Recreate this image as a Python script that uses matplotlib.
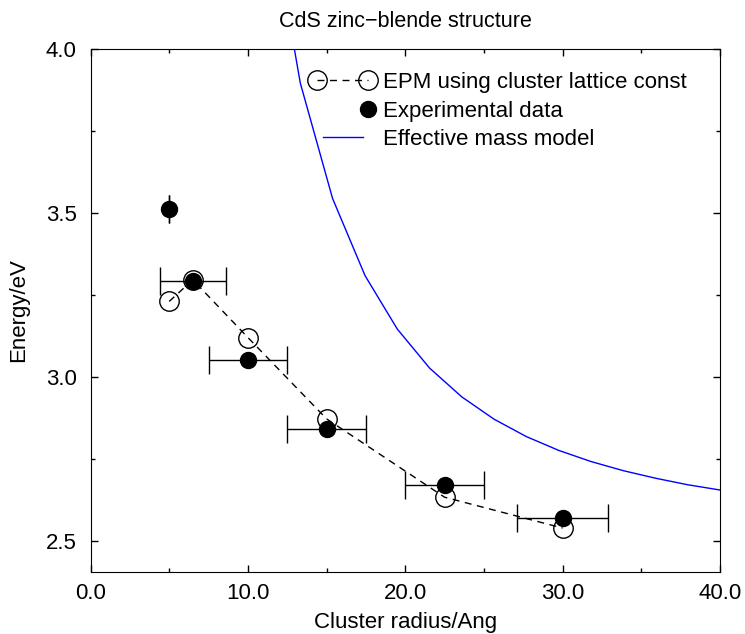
import matplotlib
matplotlib.use('Agg')
import matplotlib.pyplot as plt
from matplotlib.legend_handler import HandlerLine2D, HandlerLine2DCompound
from matplotlib.lines import Line2D
from matplotlib.ticker import MultipleLocator, FormatStrFormatter

plt.rcParams['font.family'] = ['Liberation Sans', 'DejaVu Sans']

# EPM calculation (open circles, dashed)
epm_r = [5.0, 6.5, 10.0, 15.0, 22.5, 30.0]
epm_e = [3.230, 3.296, 3.120, 2.872, 2.633, 2.539]

# experimental points with radius uncertainty
exp_r = [5.0, 6.5, 10.0, 15.0, 22.5, 30.0]
exp_e = [3.511, 3.293, 3.051, 2.841, 2.671, 2.569]
exp_rerr = [0.0, 2.1, 2.5, 2.5, 2.5, 2.9]

# effective mass model curve
ema_r = [11.28, 13.33, 15.38, 17.44, 19.49, 21.54, 23.59, 25.64,
         27.69, 29.74, 31.79, 33.85, 35.90, 37.95, 40.00]
ema_e = [4.460, 3.896, 3.544, 3.309, 3.146, 3.027, 2.939, 2.871,
         2.818, 2.776, 2.742, 2.714, 2.691, 2.671, 2.655]


# legend handler putting a single marker at the right end of the handle
class RightMarker(HandlerLine2DCompound):
    def get_xdata(self, legend, xdescent, ydescent, width, height, fontsize):
        xdata, xm = super().get_xdata(legend, xdescent, ydescent, width, height, fontsize)
        return xdata, xm[-1:]


fig = plt.figure(figsize=(7.45, 6.34), dpi=100)
ax = fig.add_axes([0.1215, 0.0978, 0.845, 0.825])

ax.plot(ema_r, ema_e, '-', color='#0000ff', lw=1.0, zorder=2)
ax.errorbar(exp_r, exp_e, xerr=exp_rerr, fmt='none', ecolor='black',
            elinewidth=1.0, capsize=10, capthick=1.0, zorder=3)
ax.plot(epm_r, epm_e, color='black', lw=1.0, ls=(0, (5, 4)),
        marker='o', ms=14, mfc='none', mec='black', mew=1.0, zorder=4)
ax.plot(exp_r, exp_e, 'o', color='black', ms=11.5, zorder=5)

ax.set_xlim(0, 40)
ax.set_ylim(2.405, 4.0)
ax.xaxis.set_major_locator(MultipleLocator(10))
ax.xaxis.set_minor_locator(MultipleLocator(5))
ax.yaxis.set_major_locator(MultipleLocator(0.5))
ax.yaxis.set_minor_locator(MultipleLocator(0.25))
ax.xaxis.set_major_formatter(FormatStrFormatter('%.1f'))
ax.yaxis.set_major_formatter(FormatStrFormatter('%.1f'))
ax.tick_params(which='both', direction='in', top=True, right=True, labelsize=16)
ax.tick_params(which='major', length=5, width=1)
ax.tick_params(which='minor', length=3, width=1)
ax.tick_params(axis='x', pad=8)
ax.tick_params(axis='y', pad=10)

ax.set_xlabel('Cluster radius/Ang', fontsize=16, labelpad=6)
ax.set_ylabel('Energy/eV', fontsize=16, labelpad=12)
ax.set_title('CdS zinc\u2212blende structure', fontsize=15.5, pad=16)

h1 = Line2D([], [], color='black', lw=1.0, ls=(0, (5, 4)), marker='o',
            ms=14, mfc='none', mec='black', mew=1.0)
h2 = Line2D([], [], ls='none', marker='o', color='black', ms=11.5)
h3 = Line2D([], [], color='#0000ff', lw=1.0)
ax.legend([h1, h2, h3],
          ['EPM using cluster lattice const', 'Experimental data', 'Effective mass model'],
          loc='upper left', bbox_to_anchor=(0.358, 0.956), frameon=False,
          fontsize=16, numpoints=2, handlelength=2.4, handletextpad=0.63,
          borderpad=0, borderaxespad=0, labelspacing=0.34,
          handler_map={h1: HandlerLine2D(marker_pad=0.07), h2: RightMarker(marker_pad=0.07)})

fig.savefig('out.png', dpi=100)
